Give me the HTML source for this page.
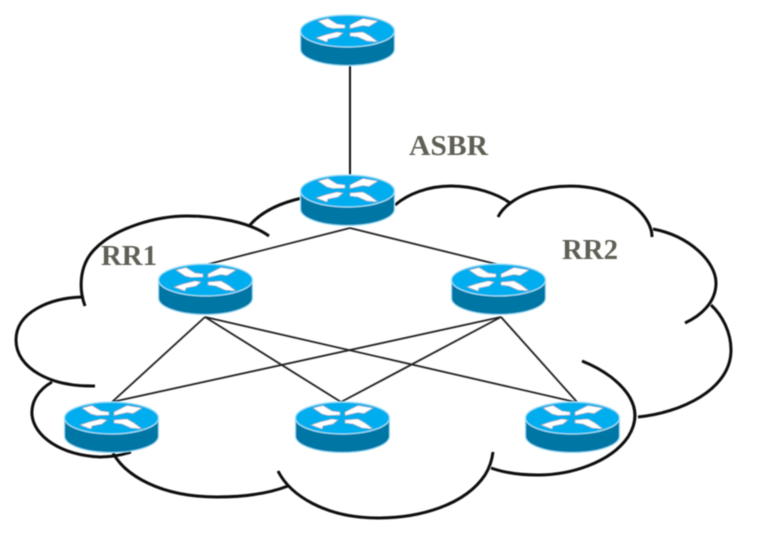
<!DOCTYPE html>
<html>
<head>
<meta charset="utf-8">
<style>
html,body{margin:0;padding:0;background:#fff;width:758px;height:534px;overflow:hidden}
svg{display:block}
text{font-family:"Liberation Serif",serif;font-weight:bold;font-size:28px;fill:#5f5f55}
</style>
</head>
<body>
<svg width="758" height="534" viewBox="0 0 758 534" xmlns="http://www.w3.org/2000/svg">
<defs>
<filter id="b" x="-5%" y="-5%" width="110%" height="110%"><feGaussianBlur stdDeviation="0.45"/></filter>
<g id="r">
  <path d="M0.5 16V34C0.5 43 21 50.5 47.5 50.5S94.5 43 94.5 34V16Z" fill="#0076a5" stroke="#8fdcf7" stroke-width="1"/>
  <ellipse cx="47.5" cy="16" rx="47" ry="16" fill="#00adef" stroke="#9fe0f7" stroke-width="1.2"/>
  <g fill="#fff" stroke="#8d9aa2" stroke-width=".6">
    <path d="M18 6L28 3.5L37 9L45 10L45 13L33 13.5L27 12Z"/>
    <path d="M78 6L63 3.5L50 10L50 13.5L63 10.5L69 11.5Z"/>
    <path d="M16 23L25 20L37 17L43 18L38 22L28 24L27 27Z"/>
    <path d="M78 27L67 26L58 22L50 21L50 18L63 17L70 21Z"/>
  </g>
</g>
</defs>

<g filter="url(#b)">
<g fill="none" stroke="#111" stroke-width="3" stroke-linecap="butt">
  <path d="M85 306C79 290 78 264 97 247C117 228 155 216 187 216C215 216 250 222 269 236"/>
  <path d="M82 297C50 298 16 312 16 340C16 368 50 387 95 386"/>
  <path d="M52 382C38 390 31 402 32 415C34 436 60 455 100 457C112 457 122 455 131 452"/>
  <path d="M113 453C125 475 160 497 217 497C245 497 270 493 288 486"/>
  <path d="M278 471C290 495 325 518 378 518C420 518 465 505 485 475C490 467 492 460 493 452"/>
  <path d="M491 468C505 473 520 475 538 475C570 475 610 463 628 437C642 415 634 395 611 377C603 371 592 365 582 361"/>
  <path d="M638 417C680 413 731 390 731 350C731 332 722 315 711 305"/>
  <path d="M685 323C700 316 716 303 716 283C716 262 690 236 653 229"/>
  <path d="M652 237C652 222 637 204 618 196C590 183 555 184 531 192C515 198 503 207 498 217"/>
  <path d="M510 203C498 194 475 186 451 186C428 186 408 194 395 205"/>
  <path d="M250 225C262 211 280 203 302 198"/>
</g>

<g stroke="#222" fill="none">
  <path d="M350 66V176" stroke-width="2" stroke="#111"/>
  <g stroke-width="1.8">
    <path d="M350 228L205 265"/>
    <path d="M350 228L500 265"/>
    <path d="M205 317L112 402"/>
    <path d="M205 317L341 402"/>
    <path d="M205 317L575 402"/>
    <path d="M501 317L112 402"/>
    <path d="M501 317L341 402"/>
    <path d="M501 317L577 402"/>
  </g>
</g>

<use href="#r" x="300" y="15"/>
<use href="#r" x="300" y="175"/>
<use href="#r" x="158" y="264"/>
<use href="#r" x="451" y="264"/>
<use href="#r" x="64" y="402"/>
<use href="#r" x="295" y="402"/>
<use href="#r" x="525" y="402"/>

<text x="409" y="155" textLength="79" lengthAdjust="spacingAndGlyphs">ASBR</text>
<text x="101" y="265" textLength="56" lengthAdjust="spacingAndGlyphs">RR1</text>
<text x="562" y="259" textLength="56" lengthAdjust="spacingAndGlyphs">RR2</text>
</g>
</svg>
</body>
</html>
